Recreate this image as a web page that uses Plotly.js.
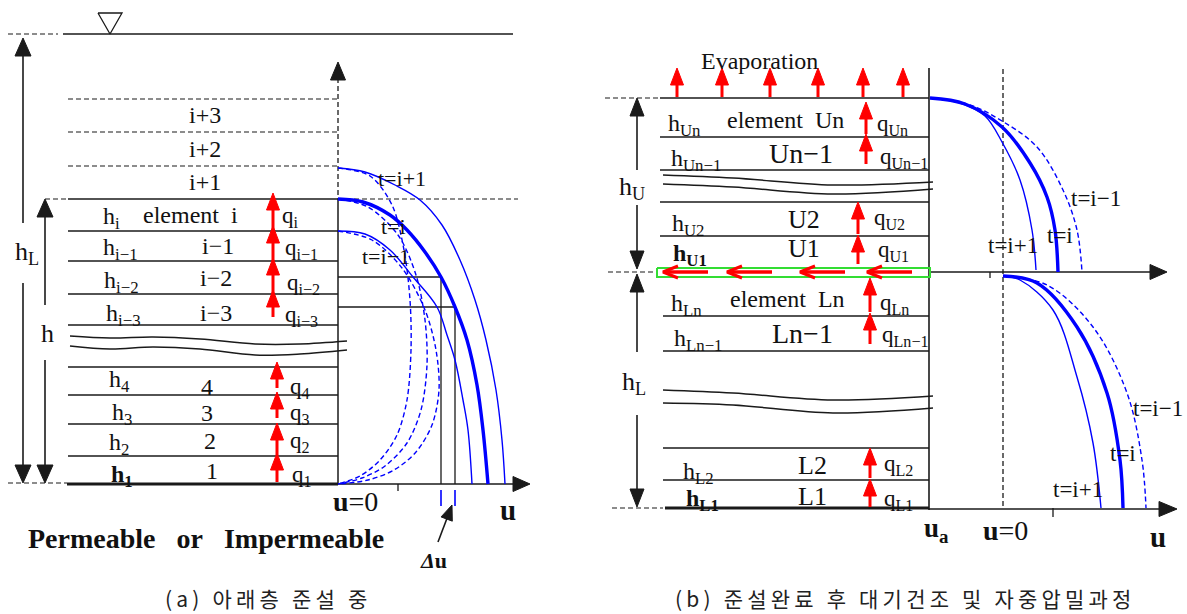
<!DOCTYPE html>
<html><head><meta charset="utf-8">
<script src="https://cdn.plot.ly/plotly-3.0.1.min.js"></script>
<style>html,body{margin:0;padding:0;background:#fff;overflow:hidden}</style>
</head><body>
<div id="chart" style="width:1187px;height:614px"></div>
<script>
// ================= DATA (diagram geometry) =================
// ---- Panel (a): lower layer during dredging ----
const aDashRowY = [99, 132, 166];
const aRowY = [199, 231, 261, 294, 325, 367, 395, 424, 456];
const aBaseY = 484;
const aTopLabels = ['i+3', 'i+2', 'i+1'];
const aTopLabelY = [115, 149, 182];
const aHText = ['h<sub>i</sub>','h<sub>i−1</sub>','h<sub>i−2</sub>','h<sub>i−3</sub>','h<sub>4</sub>','h<sub>3</sub>','h<sub>2</sub>','<b>h<sub>1</sub></b>'];
const aHX = [101, 101, 102, 104, 107, 110, 107, 109];
const aHY = [218, 249, 282, 315, 381, 414, 444, 476];
const aElText = ['element\u00a0\u00a0i','i−1','i−2','i−3','4','3','2','1'];
const aElX = [190, 218, 216, 216, 207, 207, 210, 212];
const aElY = [215, 246, 278, 313, 387, 413, 441, 471];
const aQText = ['q<sub>i</sub>','q<sub>i−1</sub>','q<sub>i−2</sub>','q<sub>i−3</sub>','q<sub>4</sub>','q<sub>3</sub>','q<sub>2</sub>','q<sub>1</sub>'];
const aQX = [280, 283, 285, 283, 288, 288, 288, 290];
const aQY = [217, 249, 284, 316, 388, 414, 442, 476];
const aArrX = [273, 273, 273, 273, 277, 277, 277, 277];
const aArrTip = [193, 226, 258, 290, 362, 392, 423, 453];
const aArrTail = [231, 261, 294, 317, 388, 418, 455, 482];
// u-profiles (a): solid curves t=i+1, t=i, t=i-1
const aCurveSolid = [
  {x:[338,365,395,420,442,460,475,486,496,502,505], y:[168,172,185,200,225,260,300,340,390,440,484], w:1.4},
  {x:[338,363,390,407,425,441,455,467,477,483,488], y:[199,202,215,230,252,277,307,340,385,430,484], w:3.4},
  {x:[338,365,390,413,437,447,455,463,468,472],     y:[231,234,250,277,307,335,360,400,430,484], w:1.4}
];
const aCurveDash = [
  {x:[338,370,392,404,410,411,407,397,380,360,338], y:[168,176,205,250,300,350,400,435,460,476,484]},
  {x:[338,368,398,416,425,427,421,407,385,362,338], y:[199,207,235,275,320,365,410,443,466,478,484]},
  {x:[338,372,402,425,436,439,432,416,394,368,338], y:[231,240,268,310,350,390,425,452,470,480,484]}
];
const aCurveLabels = ['t=i+1', 't=i', 't=i−1'];
const aCurveLabelX = [402, 393, 386];
const aCurveLabelY = [178, 226, 256];
const aWavy = [
  {x:[70,110,153,200,255,300,347], y:[336,338,337,339,344,344,341]},
  {x:[70,110,153,200,255,300,347], y:[346,349,347,349,355,354,350]}
];

// ---- Panel (b): after dredging, air drying + self-weight consolidation ----
const bTopRowY = [98, 137, 170, 202, 236];
const bLowRowY = [316, 351, 448, 480];
const bBaseY = 508;
const bMidY = 272;
const bHText = ['h<sub>Un</sub>','h<sub>Un−1</sub>','h<sub>U2</sub>','<b>h<sub>U1</sub></b>','h<sub>Ln</sub>','h<sub>Ln−1</sub>','h<sub>L2</sub>','<b>h<sub>L1</sub></b>'];
const bHX = [666, 669, 670, 671, 669, 672, 681, 684];
const bHY = [125, 160, 225, 255, 305, 340, 473, 500];
const bElText = ['element\u00a0\u00a0Un','Un−1','U2','U1','element\u00a0\u00a0Ln','Ln−1','L2','L1'];
const bElX = [785, 801, 804, 804, 787, 802, 812, 812];
const bElY = [120, 153, 219, 248, 299, 333, 465, 496];
const bQText = ['q<sub>Un</sub>','q<sub>Un−1</sub>','q<sub>U2</sub>','q<sub>U1</sub>','q<sub>Ln</sub>','q<sub>Ln−1</sub>','q<sub>L2</sub>','q<sub>L1</sub>'];
const bQX = [875, 878, 872, 876, 878, 880, 882, 882];
const bQY = [125, 158, 219, 251, 304, 336, 465, 500];
const bArrX = [866, 866, 858, 858, 870, 870, 870, 870];
const bArrTip = [102, 134, 202, 235, 278, 313, 448, 479];
const bArrTail = [134, 164, 234, 264, 312, 344, 478, 507];
const evapX = [677, 722, 770, 818, 863, 903];
const drainTail = [708, 772, 845, 912];
const drainTip = [663, 727, 800, 867];
const bUpperCurves = [
  {x:[930,960,985,1002,1020,1032,1036],      y:[98,103,116,142,180,230,270], w:1.4, dash:'solid'},
  {x:[930,965,1002,1030,1047,1055,1058],     y:[98,104,127,163,197,230,272], w:3.4, dash:'solid'},
  {x:[930,970,1002,1037,1063,1077,1082],     y:[98,105,121,147,190,230,272], w:1.4, dash:'5px,3px'}
];
const bLowerCurves = [
  {x:[1003,1020,1053,1077,1093,1101], y:[276,280,310,377,443,508], w:1.4, dash:'solid'},
  {x:[1003,1037,1077,1107,1120,1123], y:[276,283,327,393,460,508], w:3.4, dash:'solid'},
  {x:[1003,1047,1093,1127,1142,1146], y:[276,285,327,393,460,508], w:1.4, dash:'5px,3px'}
];
const bCurveLabels = ['t=i+1', 't=i', 't=i−1'];
const bUpperLabelX = [1013, 1060, 1096];
const bUpperLabelY = [245, 235, 198];
const bLowerLabelX = [1078, 1123, 1158];
const bLowerLabelY = [489, 453, 408];
const bWavy = [
  {x:[663,733,833,933], y:[175,178,185,182]},
  {x:[663,733,833,933], y:[184,187,194,189]},
  {x:[663,733,833,933], y:[390,393,400,396]},
  {x:[663,733,833,933], y:[403,405,413,408]}
];
const captions = ['(a) 아래층 준설 중', '(b) 준설완료 후 대기건조 및 자중압밀과정'];
const captionX = [266, 903];

// ================= DRAWING =================
const ink = '#1a1a1a', blue = '#0000ff', red = '#ff0000', green = '#33dd33';
const serif = 'Liberation Serif, Times New Roman, serif';
const DASH = '5px,3px';
const traces = [];
const ann = [];

function line(xs, ys, o) {
  o = o || {};
  traces.push({type:'scatter', mode:'lines', x:xs, y:ys, hoverinfo:'skip', showlegend:false,
    line:{color:o.color || ink, width:o.width || 1.4, dash:o.dash || 'solid',
          shape:o.shape || 'linear', smoothing:o.smoothing || 1}});
}
function head(tx, ty, fx, fy, len, wid, color) {
  const dx = tx - fx, dy = ty - fy, d = Math.hypot(dx, dy);
  const ux = dx / d, uy = dy / d, px = -uy, py = ux;
  const bx = tx - ux * len, by = ty - uy * len;
  traces.push({type:'scatter', mode:'lines', hoverinfo:'skip', showlegend:false,
    x:[tx, bx + px * wid / 2, bx - px * wid / 2, tx], y:[ty, by + py * wid / 2, by - py * wid / 2, ty],
    fill:'toself', fillcolor:color, line:{color:color, width:1}});
}
function arrow(tx, ty, fx, fy, len, wid, color, lw) {
  const dx = tx - fx, dy = ty - fy, d = Math.hypot(dx, dy);
  line([fx, tx - dx / d * (len - 2)], [fy, ty - dy / d * (len - 2)], {color:color, width:lw});
  head(tx, ty, fx, fy, len, wid, color);
}
function text(t, x, y, size, o) {
  o = o || {};
  ann.push({text:t, x:x, y:y, xref:'x', yref:'y', showarrow:false,
    xanchor:o.xa || 'center', yanchor:o.ya || 'middle',
    font:{family:o.family || serif, size:size, color:o.color || '#111'}});
}

// ---------- Panel (a) ----------
line([8, 58], [34, 34], {dash:DASH, width:1.2});
line([63, 513], [34, 34], {width:1.4});
line([98, 122, 110, 98], [13, 13, 34, 13], {width:1.3});
aDashRowY.forEach(y => line([68, 338], [y, y], {dash:DASH, width:1.2}));
aRowY.forEach(y => line([68, 338], [y, y], {width:1.5}));
line([67, 338], [aBaseY, aBaseY], {width:3});
aWavy.forEach(w => line(w.x, w.y, {shape:'spline', width:1.5}));
line([45, 67], [199, 199], {dash:DASH, width:1.2});
line([8, 67], [483, 483], {dash:DASH, width:1.2});
line([23, 23], [54, 223], {width:1.6}); line([23, 23], [283, 468], {width:1.6});
head(23, 38, 23, 100, 18, 16, ink); head(23, 483, 23, 400, 18, 16, ink);
line([45, 45], [215, 305], {width:1.6}); line([45, 45], [360, 468], {width:1.6});
head(45, 199, 45, 300, 18, 16, ink); head(45, 483, 45, 400, 18, 16, ink);
text('h<sub>L</sub>', 27, 253, 26);
text('h', 47, 333, 26);
line([338, 338], [78, 199], {dash:DASH, width:1.3});
line([338, 338], [199, aBaseY], {width:1.5});
head(338, 62, 338, 120, 18, 15, ink);
line([338, 518], [199, 199], {dash:DASH, width:1.2});
line([338, 515], [aBaseY, aBaseY], {width:1.5});
head(530, aBaseY, 480, aBaseY, 17, 15, ink);
line([398, 398], [aBaseY, 491], {width:1.3});
line([338, 441], [277, 277], {width:1.3});
line([338, 455], [307, 307], {width:1.3});
line([441, 441], [277, aBaseY], {width:1.3});
line([455, 455], [307, aBaseY], {width:1.3});
line([441, 441], [490, 506], {color:blue, width:1.6});
line([455, 455], [490, 506], {color:blue, width:1.6});
arrow(452, 505, 438, 542, 15, 12, ink, 1.6);
aCurveDash.forEach(c => line(c.x, c.y, {color:blue, width:1.4, dash:DASH, shape:'spline', smoothing:0.9}));
aCurveSolid.forEach(c => line(c.x, c.y, {color:blue, width:c.w, shape:'spline'}));
aCurveLabels.forEach((t, i) => text(t, aCurveLabelX[i], aCurveLabelY[i], 22));
aTopLabels.forEach((t, i) => text(t, 205, aTopLabelY[i], 24));
aHText.forEach((t, i) => text(t, aHX[i], aHY[i], 24, {xa:'left'}));
aElText.forEach((t, i) => text(t, aElX[i], aElY[i], 24));
aQText.forEach((t, i) => text(t, aQX[i], aQY[i], 23, {xa:'left'}));
aArrX.forEach((x, i) => arrow(x, aArrTip[i], x, aArrTail[i], 17, 13, red, 3));
text('<b>u</b>=0', 355, 501, 28);
text('<b>u</b>', 508, 510, 29);
text('<b><i>Δ</i>u</b>', 433, 560, 22);
text('<b>Permeable\u00a0\u00a0\u00a0or\u00a0\u00a0\u00a0Impermeable</b>', 206, 538, 28);

// ---------- Panel (b) ----------
text('Evaporation', 759, 61, 24);
evapX.forEach(x => arrow(x, 68, x, 97, 17, 13, red, 3));
line([605, 658], [98, 98], {dash:DASH, width:1.2});
line([608, 655], [bMidY, bMidY], {dash:DASH, width:1.2});
line([612, 663], [bBaseY, bBaseY], {dash:DASH, width:1.2});
bTopRowY.forEach(y => line([660, 929], [y, y], {width:1.5}));
bLowRowY.forEach(y => line([663, 929], [y, y], {width:1.5}));
line([665, 929], [bBaseY, bBaseY], {width:3});
bWavy.forEach(w => line(w.x, w.y, {shape:'spline', width:1.5}));
line([929, 929], [68, 510], {width:1.6});
line([637, 637], [114, 170], {width:1.6}); line([637, 637], [205, 253], {width:1.6});
head(637, 98, 637, 200, 18, 14, ink); head(637, 269, 637, 200, 18, 14, ink);
line([637, 637], [290, 352], {width:1.6}); line([637, 637], [415, 491], {width:1.6});
head(637, 274, 637, 400, 18, 14, ink); head(637, 507, 637, 400, 18, 14, ink);
text('h<sub>U</sub>', 632, 188, 26);
text('h<sub>L</sub>', 634, 383, 26);
line([1003, 1003], [69, bBaseY], {dash:DASH, width:1.3});
line([929, 1151], [bMidY, bMidY], {width:1.5});
head(1167, bMidY, 1100, bMidY, 17, 15, ink);
line([990, 990], [bMidY, 278], {width:1.3});
line([929, 1160], [bBaseY + 1, bBaseY + 1], {width:1.5});
head(1177, bBaseY + 1, 1100, bBaseY + 1, 18, 15, ink);
line([1053, 1053], [bBaseY, 517], {width:1.3});
line([657, 930, 930, 657, 657], [268, 268, 277, 277, 268], {color:green, width:2});
drainTip.forEach((tx, i) => {
  line([drainTail[i], tx + 1], [bMidY, bMidY], {color:red, width:3.5});
  line([tx + 15, tx, tx + 15], [bMidY - 6, bMidY, bMidY + 6], {color:red, width:3});
});
bUpperCurves.forEach(c => line(c.x, c.y, {color:blue, width:c.w, dash:c.dash, shape:'spline'}));
bLowerCurves.forEach(c => line(c.x, c.y, {color:blue, width:c.w, dash:c.dash, shape:'spline'}));
bCurveLabels.forEach((t, i) => {
  text(t, bUpperLabelX[i], bUpperLabelY[i], 23);
  text(t, bLowerLabelX[i], bLowerLabelY[i], 23);
});
const bElSize = [24, 28, 26, 26, 24, 28, 26, 26];
bHText.forEach((t, i) => text(t, bHX[i], bHY[i], 24, {xa:'left'}));
bElText.forEach((t, i) => text(t, bElX[i], bElY[i], bElSize[i]));
bQText.forEach((t, i) => text(t, bQX[i], bQY[i], 23, {xa:'left'}));
bArrX.forEach((x, i) => arrow(x, bArrTip[i], x, bArrTail[i], 17, 13, red, 3));
text('<b>u<sub>a</sub></b>', 936, 530, 27);
text('<b>u</b>=0', 1005, 530, 28);
text('<b>u</b>', 1158, 537, 29);

// captions (spaced as in the reference)
captions.forEach((t, i) => text(Array.from(t).join('\u2009'), captionX[i], 598, 21,
  {family:'Noto Sans CJK KR, Noto Sans, sans-serif', color:'#222'}));

const layout = {
  width: 1187, height: 614, margin:{l:0, r:0, t:0, b:0},
  paper_bgcolor:'#fff', plot_bgcolor:'#fff', showlegend:false,
  xaxis:{range:[0, 1187], visible:false, fixedrange:true},
  yaxis:{range:[614, 0], visible:false, fixedrange:true},
  annotations: ann
};
Plotly.newPlot('chart', traces, layout, {displayModeBar:false, staticPlot:true});
</script>
</body></html>
